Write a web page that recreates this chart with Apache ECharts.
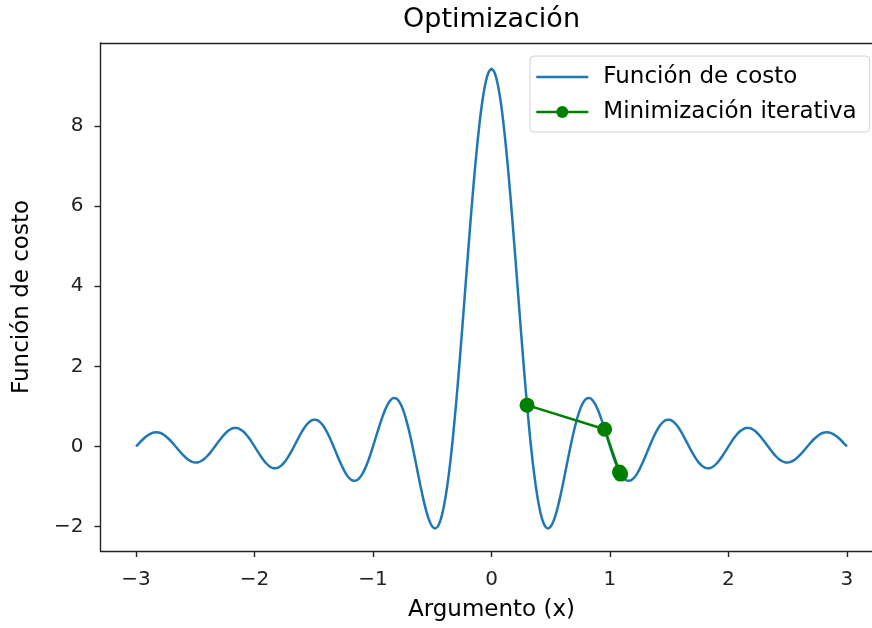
<!DOCTYPE html>
<html>
<head>
<meta charset="utf-8">
<script src="https://cdn.jsdelivr.net/npm/echarts@6/dist/echarts.min.js"></script>
<style>html,body{margin:0;padding:0;background:#fff}#c{width:872px;height:628px}</style>
</head>
<body>
<div id="c"></div>
<script>
var costX = [-3.000,-2.975,-2.950,-2.925,-2.900,-2.875,-2.850,-2.825,-2.800,-2.775,-2.750,-2.725,-2.700,-2.675,-2.650,-2.625,-2.600,-2.575,-2.550,-2.525,-2.500,-2.475,-2.450,-2.425,-2.400,-2.375,-2.350,-2.325,-2.300,-2.275,-2.250,-2.225,-2.200,-2.175,-2.150,-2.125,-2.100,-2.075,-2.050,-2.025,-2.000,-1.975,-1.950,-1.925,-1.900,-1.875,-1.850,-1.825,-1.800,-1.775,-1.750,-1.725,-1.700,-1.675,-1.650,-1.625,-1.600,-1.575,-1.550,-1.525,-1.500,-1.475,-1.450,-1.425,-1.400,-1.375,-1.350,-1.325,-1.300,-1.275,-1.250,-1.225,-1.200,-1.175,-1.150,-1.125,-1.100,-1.075,-1.050,-1.025,-1.000,-0.975,-0.950,-0.925,-0.900,-0.875,-0.850,-0.825,-0.800,-0.775,-0.750,-0.725,-0.700,-0.675,-0.650,-0.625,-0.600,-0.575,-0.550,-0.525,-0.500,-0.475,-0.450,-0.425,-0.400,-0.375,-0.350,-0.325,-0.300,-0.275,-0.250,-0.225,-0.200,-0.175,-0.150,-0.125,-0.100,-0.075,-0.050,-0.025,0.000,0.025,0.050,0.075,0.100,0.125,0.150,0.175,0.200,0.225,0.250,0.275,0.300,0.325,0.350,0.375,0.400,0.425,0.450,0.475,0.500,0.525,0.550,0.575,0.600,0.625,0.650,0.675,0.700,0.725,0.750,0.775,0.800,0.825,0.850,0.875,0.900,0.925,0.950,0.975,1.000,1.025,1.050,1.075,1.100,1.125,1.150,1.175,1.200,1.225,1.250,1.275,1.300,1.325,1.350,1.375,1.400,1.425,1.450,1.475,1.500,1.525,1.550,1.575,1.600,1.625,1.650,1.675,1.700,1.725,1.750,1.775,1.800,1.825,1.850,1.875,1.900,1.925,1.950,1.975,2.000,2.025,2.050,2.075,2.100,2.125,2.150,2.175,2.200,2.225,2.250,2.275,2.300,2.325,2.350,2.375,2.400,2.425,2.450,2.475,2.500,2.525,2.550,2.575,2.600,2.625,2.650,2.675,2.700,2.725,2.750,2.775,2.800,2.825,2.850,2.875,2.900,2.925,2.950,2.975,3.000];
var costY = [0,0.078,0.154,0.222,0.279,0.321,0.347,0.353,0.340,0.307,0.257,0.192,0.114,0.029,-0.059,-0.146,-0.226,-0.295,-0.349,-0.385,-0.400,-0.393,-0.364,-0.314,-0.245,-0.161,-0.067,0.034,0.134,0.230,0.314,0.383,0.432,0.458,0.459,0.435,0.385,0.313,0.221,0.115,0,-0.118,-0.233,-0.337,-0.426,-0.493,-0.534,-0.546,-0.528,-0.480,-0.404,-0.303,-0.182,-0.047,0.095,0.235,0.367,0.483,0.575,0.638,0.667,0.659,0.614,0.534,0.420,0.278,0.116,-0.059,-0.238,-0.410,-0.566,-0.696,-0.793,-0.848,-0.859,-0.821,-0.735,-0.604,-0.432,-0.228,0,0.239,0.478,0.702,0.899,1.056,1.162,1.208,1.189,1.100,0.943,0.721,0.441,0.116,-0.241,-0.612,-0.980,-1.322,-1.620,-1.852,-2.000,-2.047,-1.980,-1.789,-1.469,-1.020,-0.447,0.241,1.030,1.900,2.828,3.790,4.755,5.697,6.585,7.391,8.090,8.659,9.080,9.338,9.425,9.338,9.080,8.659,8.090,7.391,6.585,5.697,4.755,3.790,2.828,1.900,1.030,0.241,-0.447,-1.020,-1.469,-1.789,-1.980,-2.047,-2.000,-1.852,-1.620,-1.322,-0.980,-0.612,-0.241,0.116,0.441,0.721,0.943,1.100,1.189,1.208,1.162,1.056,0.899,0.702,0.478,0.239,0,-0.228,-0.432,-0.604,-0.735,-0.821,-0.859,-0.848,-0.793,-0.696,-0.566,-0.410,-0.238,-0.059,0.116,0.278,0.420,0.534,0.614,0.659,0.667,0.638,0.575,0.483,0.367,0.235,0.095,-0.047,-0.182,-0.303,-0.404,-0.480,-0.528,-0.546,-0.534,-0.493,-0.426,-0.337,-0.233,-0.118,0,0.115,0.221,0.313,0.385,0.435,0.459,0.458,0.432,0.383,0.314,0.230,0.134,0.034,-0.067,-0.161,-0.245,-0.314,-0.364,-0.393,-0.400,-0.385,-0.349,-0.295,-0.226,-0.146,-0.059,0.029,0.114,0.192,0.257,0.307,0.340,0.353,0.347,0.321,0.279,0.222,0.154,0.078,0];
var iterX = [0.30, 0.955, 1.08, 1.09];
var iterY = [1.03, 0.43, -0.64, -0.69];
var xTicks = [-3, -2, -1, 0, 1, 2, 3];
var yTicks = [-2, 0, 2, 4, 6, 8];

var FONT = 'DejaVu Sans';
function fmt(v) { return String(v).replace('-', '\u2212'); }
function pairs(xs, ys) { return xs.map(function (x, i) { return [x, ys[i]]; }); }
var spine = { show: true, onZero: false, lineStyle: { color: '#222', width: 1.4 } };

var chart = echarts.init(document.getElementById('c'), null, { renderer: 'canvas' });
chart.setOption({
  animation: false,
  backgroundColor: '#fff',
  title: {
    text: 'Optimización',
    left: 491.5,
    top: 6,
    padding: 0,
    textAlign: 'center',
    textStyle: { fontFamily: FONT, fontSize: 27, fontWeight: 'normal', color: '#000', lineHeight: 28 }
  },
  grid: { left: 100.5, top: 43, width: 782, height: 508, outerBoundsMode: 'none', containLabel: false, show: false },
  legend: {
    left: 530, top: 56,
    orient: 'vertical',
    padding: [8, 13, 7, 5],
    itemWidth: 52, itemHeight: 15, itemGap: 9,
    backgroundColor: 'rgba(255,255,255,0.8)',
    borderColor: '#d0d0d0', borderWidth: 1, borderRadius: 4,
    textStyle: { fontFamily: FONT, fontSize: 23, color: '#000', lineHeight: 26, padding: [0, 0, 0, 10] },
    data: [
      { name: 'Función de costo', itemStyle: { opacity: 0 }, lineStyle: { width: 2.6, color: '#1f77b4' } },
      { name: 'Minimización iterativa', lineStyle: { width: 2.6, color: '#008000' } }
    ]
  },
  xAxis: [{
    type: 'value', min: -3.3, max: 3.3, position: 'bottom',
    name: 'Argumento (x)', nameLocation: 'middle', nameGap: 47,
    nameTextStyle: { fontFamily: FONT, fontSize: 23, color: '#000', lineHeight: 24 },
    axisLine: spine,
    axisTick: { show: true, length: 6, customValues: xTicks, lineStyle: { color: '#222', width: 1.4 } },
    axisLabel: { customValues: xTicks, margin: 19, fontFamily: FONT, fontSize: 20, color: '#222', lineHeight: 20, formatter: fmt },
    splitLine: { show: false }
  }, {
    type: 'value', min: -3.3, max: 3.3, position: 'top',
    axisLine: spine, axisTick: { show: false }, axisLabel: { show: false }, splitLine: { show: false }
  }],
  yAxis: {
    type: 'value', min: -2.61, max: 10.07,
    name: 'Función de costo', nameLocation: 'middle', nameGap: 66, nameRotate: 90,
    nameTextStyle: { fontFamily: FONT, fontSize: 23, color: '#000', lineHeight: 24 },
    axisLine: spine,
    axisTick: { show: true, length: 6, customValues: yTicks, lineStyle: { color: '#222', width: 1.4 } },
    axisLabel: { customValues: yTicks, margin: 17, fontFamily: FONT, fontSize: 20, color: '#222', formatter: fmt },
    splitLine: { show: false }
  },
  series: [
    {
      name: 'Función de costo', type: 'line',
      data: pairs(costX, costY),
      smooth: 0.2, symbol: 'none', showSymbol: false,
      lineStyle: { color: '#1f77b4', width: 2.5 },
      itemStyle: { color: '#1f77b4' },
      z: 2
    },
    {
      name: 'Minimización iterativa', type: 'line',
      data: pairs(iterX, iterY),
      symbol: 'circle', symbolSize: 15, showSymbol: true,
      lineStyle: { color: '#008000', width: 2.5 },
      itemStyle: { color: '#008000' },
      z: 3
    }
  ]
});
</script>
</body>
</html>
